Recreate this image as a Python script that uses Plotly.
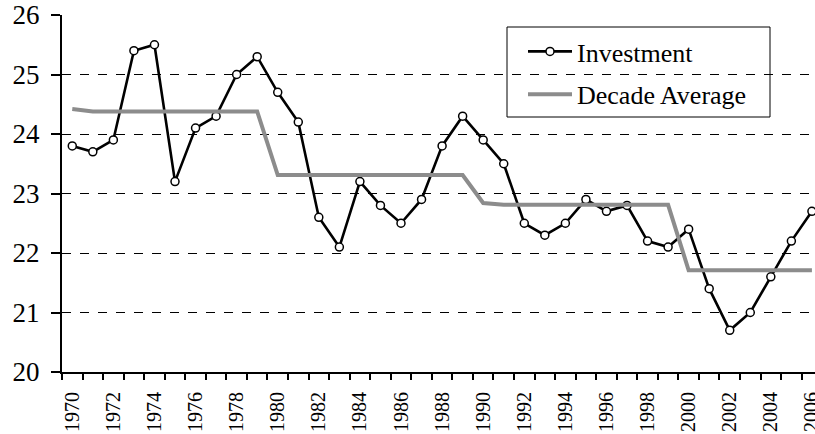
import plotly.graph_objects as go

years = list(range(1970, 2007))
investment = [23.8, 23.7, 23.9, 25.4, 25.5, 23.2, 24.1, 24.3, 25.0, 25.3,
              24.7, 24.2, 22.6, 22.1, 23.2, 22.8, 22.5, 22.9, 23.8, 24.3,
              23.9, 23.5, 22.5, 22.3, 22.5, 22.9, 22.7, 22.8, 22.2, 22.1,
              22.4, 21.4, 20.7, 21.0, 21.6, 22.2, 22.7]
decade_avg = [24.42, 24.38, 24.38, 24.38, 24.38, 24.38, 24.38, 24.38, 24.38, 24.38,
              23.31, 23.31, 23.31, 23.31, 23.31, 23.31, 23.31, 23.31, 23.31, 23.31,
              22.84, 22.81, 22.81, 22.81, 22.81, 22.81, 22.81, 22.81, 22.81, 22.81,
              21.71, 21.71, 21.71, 21.71, 21.71, 21.71, 21.71]
label_years = list(range(1970, 2007, 2))
y_ticks = [20, 21, 22, 23, 24, 25, 26]

FONT = "Liberation Serif"
L, T, PW, PH = 62, 15, 753, 357

def px_x(p):
    return (p - L) / PW

def px_y(p):
    return (T + PH - p) / PH

fig = go.Figure()
fig.add_trace(go.Scatter(
    x=years, y=investment, name="Investment", mode="lines+markers",
    line=dict(color="black", width=2.6),
    marker=dict(symbol="circle", size=8, color="white",
                line=dict(color="black", width=1.5)),
    legendgroup="a",
))
fig.add_trace(go.Scatter(
    x=years, y=decade_avg, name="Decade Average", mode="lines",
    line=dict(color="#8c8c8c", width=4),
    legendgroup="b",
))

# legend frame
fig.add_shape(type="rect", xref="paper", yref="paper",
              x0=px_x(507), x1=px_x(770), y0=px_y(117), y1=px_y(27),
              line=dict(color="black", width=1), fillcolor="white", layer="below")

fig.update_layout(
    width=815, height=434,
    margin=dict(l=L, r=0, t=T, b=434 - T - PH),
    paper_bgcolor="white", plot_bgcolor="rgba(0,0,0,0)",
    font=dict(family=FONT, color="black"),
    showlegend=True,
    legend=dict(
        x=px_x(523), y=px_y(28), xanchor="left", yanchor="top",
        bgcolor="rgba(0,0,0,0)", borderwidth=0,
        font=dict(family=FONT, size=26, color="black"),
        tracegroupgap=6, itemwidth=44,
    ),
    xaxis=dict(
        range=[1969.5, 2006.15], tickmode="array", tickvals=label_years,
        ticktext=[str(y) for y in label_years], tickangle=-90,
        ticks="", showgrid=False, zeroline=False,
        showline=True, linecolor="black", linewidth=2,
        tickfont=dict(family=FONT, size=20, color="black"),
        ticklabelstandoff=10, ticklabeloverflow="allow",
        minor=dict(tick0=1969.5, dtick=1, ticks="outside", ticklen=6,
                   tickwidth=1.5, tickcolor="black", showgrid=False),
        automargin=False,
    ),
    yaxis=dict(
        range=[20, 26], tickmode="array", tickvals=y_ticks,
        ticks="outside", ticklen=9, tickwidth=1.5, tickcolor="black",
        showgrid=True, gridcolor="black", gridwidth=1, griddash="dash",
        zeroline=False, showline=True, linecolor="black", linewidth=2,
        tickfont=dict(family=FONT, size=27, color="black"),
        ticklabelstandoff=6,
        automargin=False,
    ),
)

fig.write_html("out.html", config={"displayModeBar": False},
               post_script="document.body.style.margin='0';document.body.style.overflow='hidden';")
